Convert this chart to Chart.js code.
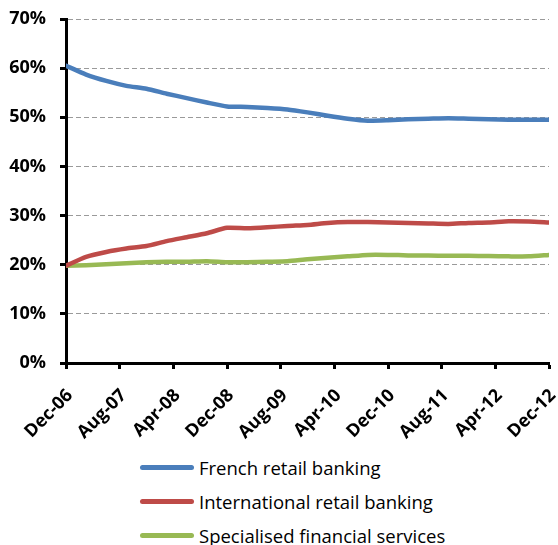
<!DOCTYPE html>
<html>
<head>
<meta charset="utf-8">
<script src="https://cdn.jsdelivr.net/npm/chart.js@4/dist/chart.umd.min.js"></script>
<style>
    html, body { margin: 0; padding: 0; background: #fff; }
    #wrap { position: relative; width: 558px; height: 545px; }
    #chart { position: absolute; left: 0; top: 0; }
    #legend { position: absolute; left: 140px; top: 450px; font-family: "Open Sans", sans-serif; font-size: 18.5px; color: #000; }
    .legend-item { display: flex; align-items: center; height: 34px; }
    .legend-swatch { width: 54px; height: 5px; border-radius: 3px; margin-right: 5px; }
</style>
</head>
<body>
<div id="wrap">
    <canvas id="chart" width="558" height="440"></canvas>
    <div id="legend"></div>
</div>
<script>
// Months since Dec-06 for each quarterly observation
const months = [0, 3, 6, 9, 12, 15, 18, 21, 24, 27, 30, 33, 36, 39, 42, 45, 48, 51, 54, 57, 60, 63, 66, 69, 72];

// Share of outstandings, in %
const frenchRetail = [60.5, 58.7, 57.4, 56.4, 55.8, 54.8, 53.9, 53.0, 52.2, 52.1, 51.9, 51.6, 51.0, 50.3, 49.7, 49.3, 49.4, 49.6, 49.7, 49.8, 49.7, 49.6, 49.5, 49.5, 49.5];
const internationalRetail = [19.8, 21.6, 22.6, 23.3, 23.8, 24.8, 25.6, 26.4, 27.5, 27.4, 27.6, 27.9, 28.1, 28.5, 28.7, 28.7, 28.6, 28.5, 28.4, 28.3, 28.5, 28.6, 28.85, 28.8, 28.6];
const specialisedServices = [19.8, 19.9, 20.1, 20.3, 20.5, 20.6, 20.6, 20.7, 20.5, 20.5, 20.6, 20.7, 21.1, 21.4, 21.7, 22.0, 22.0, 21.9, 21.85, 21.8, 21.8, 21.75, 21.7, 21.7, 22.0];

// One label every 8 months
const xTickLabels = ["Dec-06", "Aug-07", "Apr-08", "Dec-08", "Aug-09", "Apr-10", "Dec-10", "Aug-11", "Apr-12", "Dec-12"];

const seriesNames = ["French retail banking", "International retail banking", "Specialised financial services"];
const seriesColors = ["#4a7ebb", "#be4b48", "#98b954"];

function toPoints(values) {
    return values.map((v, i) => ({ x: months[i], y: v }));
}

// Fixed axis sizes, no extra room reserved for edge labels
function fixScale(size) {
    return (scale) => {
        if (scale.isHorizontal()) scale.height = size;
        else scale.width = size;
        scale.paddingLeft = 0;
        scale.paddingRight = 0;
        scale.paddingTop = 0;
        scale.paddingBottom = 0;
    };
}

document.addEventListener("DOMContentLoaded", function () {
    setupChart();
    setupLegend();
});

function setupChart() {
    const ctx = document.getElementById("chart").getContext("2d");
    const tickFont = { family: "Open Sans", size: 18, weight: "bold" };
    const allSeries = [frenchRetail, internationalRetail, specialisedServices];

    new Chart(ctx, {
        type: "line",
        data: {
            datasets: allSeries.map((values, i) => ({
                label: seriesNames[i],
                data: toPoints(values),
                borderColor: seriesColors[i],
                backgroundColor: seriesColors[i],
                borderWidth: 4.5,
                pointRadius: 0,
                tension: 0.2,
                borderCapStyle: "round",
                borderJoinStyle: "round",
                fill: false,
            })),
        },
        options: {
            responsive: false,
            animation: false,
            layout: { autoPadding: false, padding: { top: 19, right: 9, left: 0, bottom: 0 } },
            plugins: {
                legend: { display: false },
                tooltip: { enabled: false },
            },
            scales: {
                x: {
                    type: "linear",
                    min: 0,
                    max: 72,
                    afterFit: fixScale(77),
                    ticks: {
                        stepSize: 8,
                        maxRotation: 45,
                        minRotation: 45,
                        padding: 16,
                        labelOffset: 4,
                        color: "#000",
                        font: tickFont,
                        callback: (v) => xTickLabels[v / 8],
                    },
                    grid: {
                        drawOnChartArea: false,
                        drawTicks: true,
                        tickLength: 6,
                        tickColor: "#000",
                        tickWidth: 3,
                    },
                    border: { color: "#000", width: 3 },
                },
                y: {
                    min: 0,
                    max: 70,
                    afterFit: fixScale(66),
                    ticks: {
                        stepSize: 10,
                        padding: 14,
                        color: "#000",
                        font: tickFont,
                        callback: (v) => v + "%",
                    },
                    grid: {
                        color: "#9a9a9a",
                        lineWidth: 1,
                        tickLength: 6,
                        tickColor: "#000",
                        tickWidth: 3,
                        tickBorderDash: [],
                    },
                    border: { color: "#000", width: 3, dash: [5, 3] },
                },
            },
        },
    });
}

// Stacked legend under the plot
function setupLegend() {
    const legend = document.getElementById("legend");
    seriesNames.forEach((name, i) => {
        const item = document.createElement("div");
        item.className = "legend-item";
        const swatch = document.createElement("span");
        swatch.className = "legend-swatch";
        swatch.style.background = seriesColors[i];
        const text = document.createElement("span");
        text.textContent = name;
        item.appendChild(swatch);
        item.appendChild(text);
        legend.appendChild(item);
    });
}
</script>
</body>
</html>
